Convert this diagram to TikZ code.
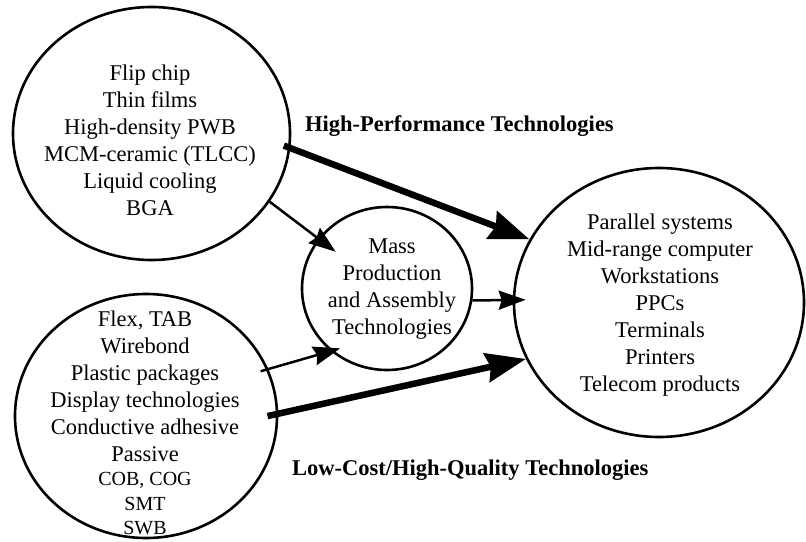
\documentclass[tikz,border=0pt]{standalone}
\usepackage{fontspec}
\setmainfont{Liberation Serif}
\usetikzlibrary{shapes.geometric,arrows.meta}
\begin{document}
\begin{tikzpicture}[x=1pt,y=-1pt,
  oval/.style={draw,ellipse,line width=2.6pt,inner sep=0pt},
  txt/.style={align=center,font=\fontsize{22.5}{27}\selectfont,inner sep=0pt},
  smalltxt/.style={align=center,font=\fontsize{20}{24.5}\selectfont,inner sep=0pt},
  lbl/.style={font=\fontsize{22.5}{27}\selectfont\bfseries,inner sep=0pt},
  thinarr/.style={line width=2.5pt,-{Stealth[length=27pt,width=19pt,inset=3pt]}},
  bigarr/.style={line width=6.5pt,-{Stealth[length=40pt,width=29pt,inset=4pt]}}]
\useasboundingbox (0,0) rectangle (806,541);
% ellipses
\node[oval,minimum width=277pt,minimum height=253pt] (tl) at (151.5,133.5) {};
\node[oval,minimum width=262pt,minimum height=244pt] (bl) at (146,416) {};
\node[oval,minimum width=170pt,minimum height=163pt] (mid) at (387,288.5) {};
\node[oval,minimum width=290pt,minimum height=269pt] (rt) at (659,302.5) {};
% texts
\node[txt] (tlt) at (150,140) {Flip chip\\Thin films\\High-density PWB\\MCM-ceramic (TLCC)\\Liquid cooling\\BGA};
\node[txt] (blt) at (145,386.5) {Flex, TAB\\Wirebond\\Plastic packages\\Display technologies\\Conductive adhesive\\Passive};
\node[smalltxt] (blt2) at (145,504) {COB, COG\\SMT\\SWB};
\node[txt] (midt) at (392,289) {Mass\\Production\\and Assembly\\Technologies};
\node[txt] (rtt) at (660,305) {Parallel systems\\Mid-range computer\\Workstations\\PPCs\\Terminals\\Printers\\Telecom products};
% labels
\node[lbl,anchor=base west] (hp) at (305,131) {High-Performance Technologies};
\node[lbl,anchor=base west] (lc) at (292,475) {Low-Cost/High-Quality Technologies};
% connectors
\draw[bigarr,shorten <=-7pt] (tl.-6) -- (rt.154);
\draw[bigarr,shorten <=-11pt] (bl.1) -- (rt.203.5);
\draw[thinarr,shorten >=-22pt] (tl.-30) -- (mid.144);
\draw[thinarr,shorten <=-8pt,shorten >=-10pt] (bl.21) -- (mid.228);
\draw[thinarr,shorten >=-13pt] (mid.-8) -- (rt.179);
\end{tikzpicture}
\end{document}
